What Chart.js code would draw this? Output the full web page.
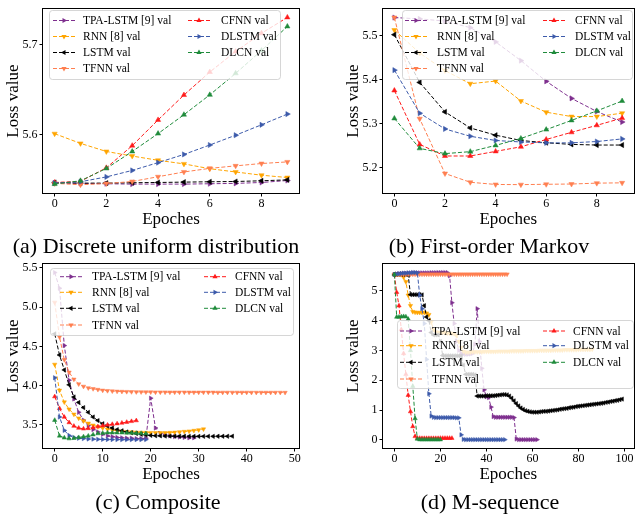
<!DOCTYPE html>
<html>
<head>
<meta charset="utf-8">
<script src="https://cdn.jsdelivr.net/npm/chart.js@4.4.0/dist/chart.umd.min.js"></script>
<style>
  body { margin: 0; background: #fff; width: 638px; height: 518px; position: relative; overflow: hidden; font-family: "Liberation Serif", serif; }
  .pnl { position: absolute; }
  .cap { position: absolute; font-size: 22px; white-space: nowrap; transform: translate(-50%, -50%); color: #000; }
</style>
</head>
<body>
<canvas id="cA" class="pnl" width="319" height="236" style="left:0;top:0"></canvas>
<canvas id="cB" class="pnl" width="298" height="236" style="left:340px;top:0"></canvas>
<canvas id="cC" class="pnl" width="319" height="236" style="left:0;top:255px"></canvas>
<canvas id="cD" class="pnl" width="298" height="236" style="left:340px;top:255px"></canvas>
<div class="cap" style="left:156px;top:246px">(a) Discrete uniform distribution</div>
<div class="cap" style="left:489px;top:246px">(b) First-order Markov</div>
<div class="cap" style="left:158px;top:502px">(c) Composite</div>
<div class="cap" style="left:490px;top:502px">(d) M-sequence</div>
<script>
// series names, colours, marker directions (0 = ^, 90 = >, 180 = v, 270 = <)
const names = ["TPA-LSTM [9] val", "RNN [8] val", "LSTM val", "TFNN val", "CFNN val", "DLSTM val", "DLCN val"];
const colors = ["#7e2f8e", "#ffa500", "#000000", "#ff7f50", "#ff1a1a", "#3c5aaa", "#1f8b3b"];
const rots = [90, 180, 270, 180, 0, 90, 0];

// (a) Discrete uniform distribution
const tpaA = [5.546, 5.5457, 5.5453, 5.5449, 5.5449, 5.5449, 5.5453, 5.5457, 5.5467, 5.5489];
const rnnA = [5.601, 5.5902, 5.5812, 5.5761, 5.5714, 5.5674, 5.562, 5.5584, 5.5548, 5.5522];
const lstmA = [5.5467, 5.546, 5.546, 5.5464, 5.5467, 5.5471, 5.5475, 5.5478, 5.5486, 5.5496];
const tfnnA = [5.5457, 5.5442, 5.5455, 5.5478, 5.5531, 5.5584, 5.5624, 5.5652, 5.5678, 5.5696];
const cfnnA = [5.5467, 5.548, 5.563, 5.5877, 5.6163, 5.644, 5.6696, 5.6924, 5.7127, 5.7304];
const dlstmA = [5.546, 5.5475, 5.5529, 5.5601, 5.5688, 5.5779, 5.5884, 5.5993, 5.6109, 5.6228];
const dlcnA = [5.5449, 5.5486, 5.5623, 5.5812, 5.6011, 5.6221, 5.6442, 5.6681, 5.6935, 5.7203];

// (b) First-order Markov
const tpaB = [5.542, 5.539, 5.534, 5.519, 5.4865, 5.4437, 5.3965, 5.3575, 5.3275, 5.3035];
const rnnB = [5.5135, 5.461, 5.421, 5.391, 5.397, 5.3515, 5.326, 5.316, 5.316, 5.3237];
const lstmB = [5.503, 5.394, 5.3267, 5.29, 5.2735, 5.2614, 5.2562, 5.2524, 5.251, 5.251];
const tfnnB = [5.542, 5.311, 5.186, 5.166, 5.161, 5.1606, 5.1614, 5.162, 5.164, 5.1647];
const cfnnB = [5.3755, 5.2525, 5.226, 5.226, 5.2365, 5.247, 5.2637, 5.28, 5.296, 5.3125];
const dlstmB = [5.422, 5.3237, 5.2877, 5.271, 5.2614, 5.258, 5.256, 5.256, 5.259, 5.265];
const dlcnB = [5.3117, 5.2434, 5.2314, 5.2359, 5.2502, 5.266, 5.2862, 5.3072, 5.329, 5.3515];

// (c) Composite
const tpaC = [5.44, 5.24, 4.51, 4.07, 3.83, 3.66, 3.56, 3.49, 3.44, 3.41,
  3.38, 3.36, 3.35, 3.34, 3.335, 3.33, 3.33, 3.325, 3.325, 3.33,
  3.84, 3.46, 3.39, 3.37, 3.36, 3.35, 3.345, 3.34, 3.335, 3.335];
const rnnC = [4.27, 3.94, 3.79, 3.70, 3.635, 3.585, 3.55, 3.52, 3.495, 3.475,
  3.46, 3.445, 3.435, 3.425, 3.418, 3.412, 3.408, 3.405, 3.403, 3.402,
  3.401, 3.40, 3.40, 3.40, 3.402, 3.405, 3.41, 3.415, 3.42, 3.428,
  3.436, 3.446];
const lstmC = [4.66, 4.39, 4.20, 4.01, 3.855, 3.785, 3.72, 3.66, 3.60, 3.555,
  3.515, 3.485, 3.46, 3.44, 3.425, 3.41, 3.40, 3.39, 3.38, 3.372,
  3.366, 3.362, 3.36, 3.358, 3.357, 3.356, 3.355, 3.355, 3.354, 3.354,
  3.354, 3.354, 3.354, 3.354, 3.355, 3.355, 3.355, 3.356];
const tfnnC = [5.06, 4.62, 4.33, 4.17, 4.08, 4.02, 3.99, 3.97, 3.96, 3.95,
  3.94, 3.935, 3.93, 3.927, 3.925, 3.923, 3.921, 3.92, 3.919, 3.918,
  3.918, 3.917, 3.917, 3.917, 3.916, 3.916, 3.916, 3.916, 3.915, 3.915,
  3.915, 3.915, 3.915, 3.915, 3.914, 3.914, 3.914, 3.914, 3.914, 3.914,
  3.914, 3.913, 3.913, 3.913, 3.913, 3.913, 3.913, 3.913, 3.912];
const cfnnC = [3.86, 3.71, 3.60, 3.53, 3.485, 3.46, 3.45, 3.455, 3.465, 3.478,
  3.49, 3.50, 3.508, 3.516, 3.525, 3.535, 3.545, 3.555];
const dlstmC = [4.10, 3.60, 3.43, 3.365, 3.34, 3.33, 3.325, 3.32, 3.318, 3.316,
  3.315, 3.314, 3.313, 3.313, 3.312, 3.312, 3.312, 3.312, 3.312, 3.313];
const dlcnC = [3.56, 3.36, 3.335, 3.325, 3.33, 3.34, 3.35, 3.36, 3.375, 3.39,
  3.395, 3.40, 3.40, 3.40, 3.40, 3.398, 3.396, 3.395, 3.393, 3.39];

// (d) M-sequence
const tpaD = [5.545, 5.56, 5.57, 5.575, 5.58, 5.585, 5.59, 5.59, 5.595, 5.6,
  5.6, 5.6, 5.6, 5.6, 5.6, 5.6, 5.605, 5.605, 5.605, 5.61,
  5.61, 5.61, 5.61, 5.61, 5.5, 4.6, 3.9, 3.3, 3.0, 2.9,
  2.88, 2.87, 2.87, 2.88, 2.9, 3.2, 4.4, 3.3, 2.4, 1.68,
  1.45, 1.42, 1.1, 0.78, 0.76, 0.76, 0.76, 0.76, 0.76, 0.76,
  0.76, 0.76, 0.75, 0.03, 0.01, 0.01, 0.01, 0.01, 0.01, 0.01,
  0.01, 0.01, 0.01];
const rnnD = [5.545, 5.55, 5.55, 5.54, 5.45, 5.3, 4.85, 4.5, 4.3, 4.28,
  4.27, 4.27, 4.27, 4.27, 4.25, 4.2, 3.95, 3.7, 3.62, 3.6,
  3.6, 3.6, 3.59, 3.58, 3.58, 3.57, 3.56, 3.5, 3.3, 3.1,
  2.97, 2.94, 2.94, 2.94, 2.95, 2.95, 2.95, 2.95, 2.95, 2.96,
  2.96, 2.96, 2.96, 2.96, 2.96, 2.97, 2.97, 2.97, 2.97, 2.97,
  2.97, 2.98, 2.98, 2.98, 2.98, 2.98, 2.98, 2.99, 2.99, 2.99,
  2.99, 2.99, 2.99, 3.0, 3.0, 3.0, 3.0, 3.0, 3.0, 3.01,
  3.01, 3.01, 3.01, 3.01, 3.02, 3.02, 3.02, 3.02, 3.02, 3.02,
  3.03, 3.03, 3.03, 3.03, 3.03, 3.03, 3.04];
const lstmD = [5.545, 5.55, 5.55, 5.55, 5.55, 5.55, 5.52, 4.87, 4.87, 4.87,
  4.87, 4.87, 4.86, 4.5, 4.12, 4.0, 3.6, 3.52, 3.52, 3.52,
  3.3, 2.83, 2.82, 2.82, 2.82, 2.82, 2.82, 2.82, 2.82, 2.81,
  2.5, 2.2, 2.2, 2.2, 2.2, 2.18, 1.47, 1.47, 1.47, 1.47,
  1.48, 1.48, 1.48, 1.48, 1.49, 1.5, 1.51, 1.52, 1.52, 1.51,
  1.47, 1.4, 1.31, 1.22, 1.14, 1.07, 1.02, 0.98, 0.96, 0.94,
  0.93, 0.93, 0.93, 0.94, 0.95, 0.96, 0.96, 0.97, 0.98, 0.99,
  1.0, 1.01, 1.03, 1.04, 1.05, 1.06, 1.08, 1.09, 1.1, 1.12,
  1.13, 1.14, 1.15, 1.16, 1.17, 1.18, 1.19, 1.2, 1.21, 1.22,
  1.23, 1.24, 1.26, 1.27, 1.29, 1.3, 1.32, 1.33, 1.35, 1.37];
const tfnnD = [5.545, 5.548, 5.55, 5.551, 5.552, 5.552, 5.553, 5.553, 5.553, 5.554,
  5.554, 5.554, 5.554, 5.555, 5.555, 5.555, 5.555, 5.555, 5.555, 5.555,
  5.555, 5.555, 5.555, 5.555, 5.555, 5.555, 5.555, 5.555, 5.555, 5.555,
  5.555, 5.555, 5.555, 5.555, 5.555, 5.556, 5.556, 5.556, 5.556, 5.556,
  5.556, 5.556, 5.556, 5.556, 5.556, 5.556, 5.556, 5.556, 5.556, 5.556];
const cfnnD = [5.545, 4.95, 4.5, 3.7, 2.9, 2.2, 1.5, 0.95, 0.45, 0.12,
  0.06, 0.06, 0.055, 0.055, 0.055, 0.055, 0.055, 0.055, 0.055, 0.055,
  0.06, 0.06, 0.06, 0.06, 0.06, 0.06];
const dlstmD = [5.545, 5.56, 5.57, 5.58, 5.59, 5.59, 5.6, 5.6, 5.61, 5.61,
  5.6, 4.85, 4.4, 3.9, 2.7, 1.55, 0.8, 0.76, 0.75, 0.75,
  0.75, 0.75, 0.75, 0.75, 0.75, 0.75, 0.75, 0.74, 0.74, 0.17,
  0.02, 0.01, 0.01, 0.01, 0.01, 0.01, 0.01, 0.01, 0.01, 0.01,
  0.01, 0.01, 0.01, 0.01, 0.01, 0.01, 0.01, 0.01, 0.01];
const dlcnD = [5.545, 4.12, 4.12, 4.13, 4.14, 4.13, 4.05, 3.0, 1.8, 0.72,
  0.03, 0.01, 0.01, 0.01, 0.01, 0.01, 0.01, 0.01, 0.01, 0.01,
  0.01];

// tick labels
const xTicksAB = [0, 2, 4, 6, 8];
const xTicksC = [0, 10, 20, 30, 40, 50];
const xTicksD = [0, 20, 40, 60, 80, 100];
const yTicksA = [5.6, 5.7];
const yTicksB = [5.2, 5.3, 5.4, 5.5];
const yTicksC = [3.5, 4.0, 4.5, 5.0, 5.5];
const yTicksD = [0, 1, 2, 3, 4, 5];

function tri(ctx, x, y, r, rotDeg) {
  let a = rotDeg * Math.PI / 180;
  ctx.beginPath();
  for (let k = 0; k < 3; k++) {
    const px = x + Math.sin(a) * r, py = y - Math.cos(a) * r;
    if (k) ctx.lineTo(px, py); else ctx.moveTo(px, py);
    a += 2 * Math.PI / 3;
  }
  ctx.closePath();
  ctx.fill();
}

// frame round the axes + matplotlib style legend box
const boxLegend = {
  id: 'boxLegend',
  afterDatasetsDraw(chart, args, o) {
    const ctx = chart.ctx, a = chart.chartArea;
    ctx.save();
    ctx.strokeStyle = '#000';
    ctx.lineWidth = 1;
    ctx.strokeRect(Math.round(a.left) - 0.5, Math.round(a.top) - 0.5, Math.round(a.right - a.left) + 1, Math.round(a.bottom - a.top) + 1);

    const [bx, by, bw, bh] = o.box;
    ctx.beginPath();
    if (ctx.roundRect) ctx.roundRect(bx + 0.5, by + 0.5, bw, bh, 3); else ctx.rect(bx + 0.5, by + 0.5, bw, bh);
    ctx.fillStyle = 'rgba(255,255,255,0.8)';
    ctx.fill();
    ctx.strokeStyle = 'rgba(204,204,204,0.8)';
    ctx.stroke();

    ctx.font = '11.5px "Liberation Serif"';
    ctx.textBaseline = 'middle';
    chart.data.datasets.forEach((ds, i) => {
      const c = i < 4 ? 0 : 1;
      const y = o.rows[i < 4 ? i : i - 4];
      const hx = o.handle[c];
      ctx.strokeStyle = ds.borderColor;
      ctx.fillStyle = ds.borderColor;
      ctx.setLineDash([4, 2]);
      ctx.beginPath();
      ctx.moveTo(hx, y);
      ctx.lineTo(hx + 22, y);
      ctx.stroke();
      ctx.setLineDash([]);
      tri(ctx, hx + 11, y, o.r, ds.pointRotation);
      ctx.fillStyle = '#000';
      ctx.fillText(ds.label, o.text[c], y + 0.5);
    });
    ctx.restore();
  }
};

function panel(id, series, xr, xt, yr, yt, yDec, rad, padRight, leg) {
  const datasets = series.map((vals, i) => ({
    label: names[i],
    data: vals.map((v, k) => ({ x: k, y: v })),
    borderColor: colors[i],
    backgroundColor: colors[i],
    pointBackgroundColor: colors[i],
    pointBorderColor: colors[i],
    borderWidth: 1,
    borderDash: [4, 2],
    pointStyle: 'triangle',
    pointRotation: rots[i],
    pointRadius: rad,
    pointBorderWidth: 0.5,
    order: 10 - i
  }));
  const tickFont = { family: 'Liberation Serif', size: 12 };
  const titleFont = { family: 'Liberation Serif', size: 17 };
  new Chart(document.getElementById(id), {
    type: 'line',
    data: { datasets },
    options: {
      responsive: false,
      animation: false,
      events: [],
      layout: { padding: { left: 0, right: padRight, top: 6, bottom: 3 } },
      plugins: { legend: { display: false }, tooltip: { enabled: false }, boxLegend: leg },
      scales: {
        x: {
          type: 'linear', min: xr[0], max: xr[1],
          afterBuildTicks: s => { s.ticks = xt.map(v => ({ value: v })); },
          afterFit: s => { s.height = 40; },
          ticks: { font: tickFont, color: '#000', padding: 0, autoSkip: false, maxRotation: 0, callback: v => String(v) },
          grid: { drawOnChartArea: false, color: '#000', tickLength: 3.5 },
          border: { display: false },
          title: { display: true, text: 'Epoches', font: titleFont, color: '#000', padding: 3 }
        },
        y: {
          type: 'linear', min: yr[0], max: yr[1],
          afterBuildTicks: s => { s.ticks = yt.map(v => ({ value: v })); },
          afterFit: s => { s.width = 43; },
          ticks: { font: tickFont, color: '#000', padding: 2, autoSkip: false, callback: v => v.toFixed(yDec) },
          grid: { drawOnChartArea: false, color: '#000', tickLength: 3.5 },
          border: { display: false },
          title: { display: true, text: 'Loss value', font: titleFont, color: '#000', padding: 3 }
        }
      }
    },
    plugins: [boxLegend]
  });
}

panel('cA', [tpaA, rnnA, lstmA, tfnnA, cfnnA, dlstmA, dlcnA], [-0.45, 9.45], xTicksAB, [5.535, 5.7395], yTicksA, 1, 3, 20,
  { box: [49, 10, 231, 69], rows: [20.5, 36.5, 52.5, 68.5], handle: [53, 188], text: [83, 221], r: 3 });
panel('cB', [tpaB, rnnB, lstmB, tfnnB, cfnnB, dlstmB, dlcnB], [-0.45, 9.45], xTicksAB, [5.1415, 5.5611], yTicksB, 1, 3, 1,
  { box: [62, 10, 230, 69], rows: [20.5, 36.5, 52.5, 68.5], handle: [65, 203], text: [97, 235], r: 3 });
panel('cC', [tpaC, rnnC, lstmC, tfnnC, cfnnC, dlstmC, dlcnC], [-2.44, 50.9], xTicksC, [3.2056, 5.5464], yTicksC, 1, 2.5, 20,
  { box: [50, 13, 243, 67], rows: [21.7, 37.3, 53.3, 70], handle: [60, 204], text: [92, 235], r: 3 });
panel('cD', [tpaD, rnnD, lstmD, tfnnD, cfnnD, dlstmD, dlcnD], [-4.95, 103.95], xTicksD, [-0.27, 5.89], yTicksD, 0, 2.5, 1,
  { box: [57, 65, 236, 68], rows: [76, 90.7, 107.3, 124], handle: [60, 203], text: [92, 233], r: 3 });
</script>
</body>
</html>
